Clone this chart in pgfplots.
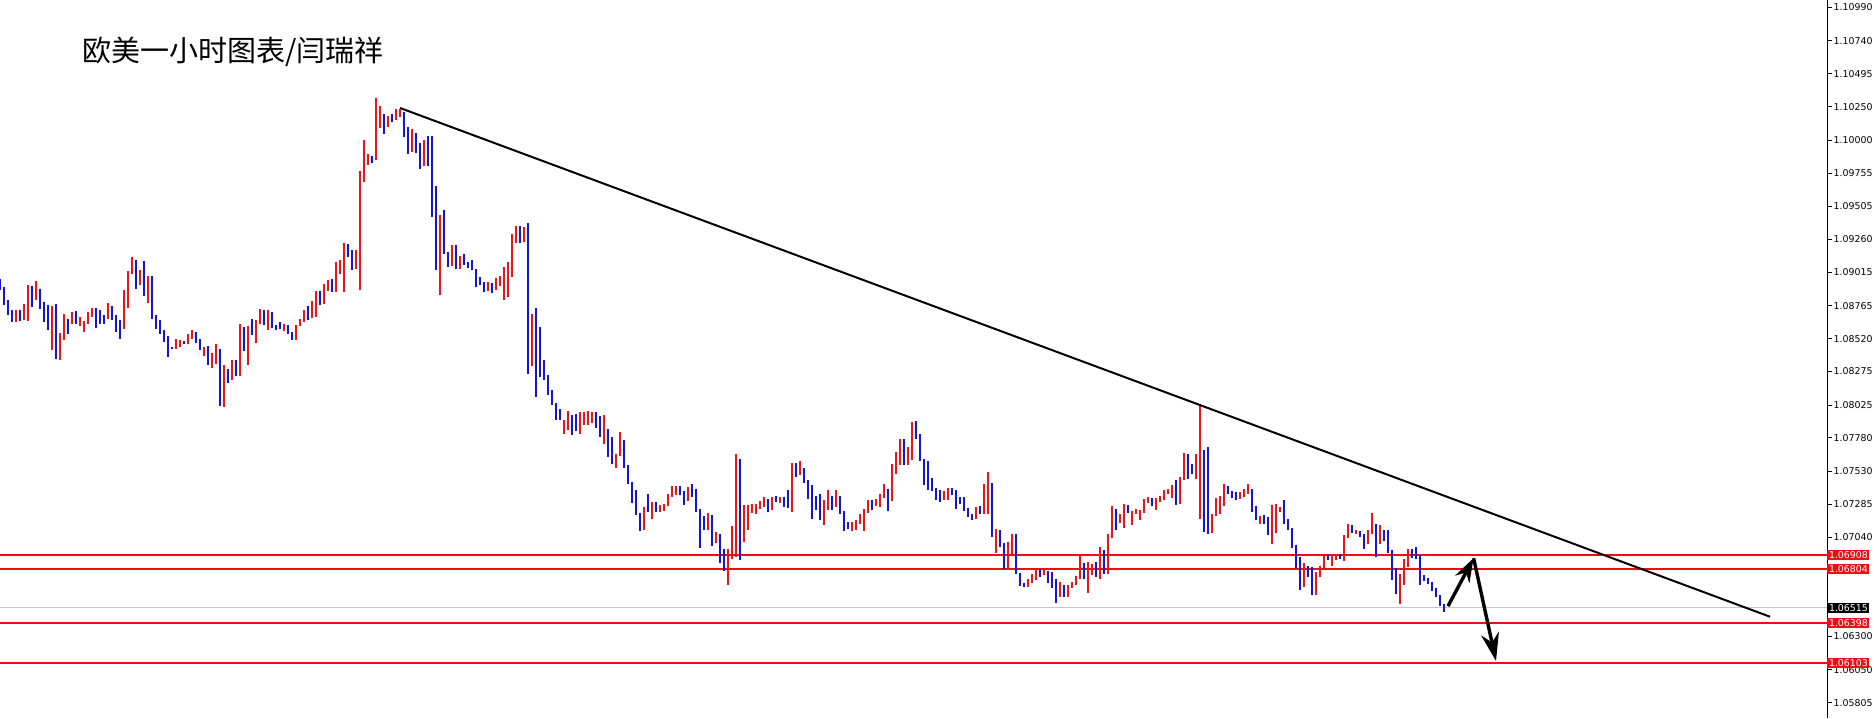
\documentclass[border=0pt]{standalone}
\usepackage{fontspec}
\usepackage{pgfplots}
\usepackage{pgfplotstable}
\pgfplotsset{compat=1.18}
\usetikzlibrary{arrows.meta}
\newfontfamily\cjk{Noto Sans CJK SC}
\newfontfamily\dejavu{DejaVu Sans}
\newcommand\tickfont{\dejavu\fontsize{4.7}{5}\selectfont}
\definecolor{bull}{RGB}{235,20,25}
\definecolor{bear}{RGB}{20,20,215}
\definecolor{lvl}{RGB}{235,15,20}
\pgfplotsset{candle/.style={only marks, mark=*, mark options={draw opacity=0, fill opacity=0},
    error bars/y dir=both, error bars/y explicit, error bars/error mark=none}}

% EURUSD 1h candles: index, open, high, low, close
\pgfplotstableread{
i o h l c
0 1.08955 1.08968 1.08881 1.08893
1 1.08888 1.08906 1.08769 1.08776
2 1.08786 1.08806 1.08694 1.08727
3 1.08727 1.08737 1.08645 1.08650
4 1.08650 1.08737 1.08645 1.08732
5 1.08732 1.08737 1.08650 1.08677
6 1.08682 1.08781 1.08657 1.08732
7 1.08727 1.08918 1.08650 1.08898
8 1.08898 1.08910 1.08756 1.08826
9 1.08818 1.08948 1.08806 1.08886
10 1.08886 1.08893 1.08744 1.08781
11 1.08786 1.08794 1.08645 1.08650
12 1.08657 1.08769 1.08583 1.08607
13 1.08607 1.08761 1.08439 1.08645
14 1.08645 1.08781 1.08372 1.08377
15 1.08372 1.08563 1.08364 1.08558
16 1.08558 1.08707 1.08513 1.08657
17 1.08662 1.08670 1.08558 1.08645
18 1.08645 1.08719 1.08632 1.08682
19 1.08682 1.08724 1.08632 1.08637
20 1.08637 1.08682 1.08612 1.08667
21 1.08632 1.08657 1.08570 1.08645
22 1.08637 1.08719 1.08632 1.08712
23 1.08707 1.08751 1.08682 1.08742
24 1.08742 1.08749 1.08600 1.08719
25 1.08732 1.08735 1.08632 1.08682
26 1.08682 1.08694 1.08632 1.08674
27 1.08677 1.08786 1.08669 1.08756
28 1.08756 1.08761 1.08657 1.08674
29 1.08682 1.08694 1.08570 1.08607
30 1.08612 1.08657 1.08520 1.08583
31 1.08593 1.08886 1.08590 1.08806
32 1.08806 1.09025 1.08751 1.09010
33 1.09005 1.09129 1.09000 1.09099
34 1.09099 1.09104 1.08893 1.08950
35 1.08950 1.09030 1.08918 1.09030
36 1.09030 1.09104 1.08843 1.08843
37 1.08843 1.08985 1.08786 1.08906
38 1.08906 1.08985 1.08670 1.08699
39 1.08699 1.08699 1.08595 1.08645
40 1.08652 1.08662 1.08558 1.08563
41 1.08565 1.08583 1.08496 1.08533
42 1.08540 1.08540 1.08384 1.08451
43 1.08458 1.08460 1.08441 1.08441
44 1.08446 1.08520 1.08441 1.08508
45 1.08463 1.08508 1.08458 1.08501
46 1.08501 1.08505 1.08483 1.08488
47 1.08488 1.08558 1.08483 1.08533
48 1.08525 1.08588 1.08520 1.08565
49 1.08565 1.08570 1.08488 1.08508
50 1.08520 1.08520 1.08434 1.08439
51 1.08439 1.08458 1.08389 1.08458
52 1.08458 1.08463 1.08327 1.08334
53 1.08330 1.08414 1.08302 1.08389
54 1.08389 1.08483 1.08330 1.08434
55 1.08441 1.08446 1.08019 1.08019
56 1.08019 1.08327 1.08011 1.08292
57 1.08292 1.08297 1.08190 1.08215
58 1.08215 1.08359 1.08210 1.08352
59 1.08352 1.08359 1.08245 1.08247
60 1.08247 1.08627 1.08245 1.08501
61 1.08501 1.08607 1.08426 1.08463
62 1.08463 1.08612 1.08327 1.08590
63 1.08590 1.08669 1.08545 1.08558
64 1.08558 1.08657 1.08488 1.08645
65 1.08637 1.08739 1.08632 1.08717
66 1.08717 1.08732 1.08620 1.08632
67 1.08632 1.08732 1.08588 1.08717
68 1.08717 1.08717 1.08600 1.08607
69 1.08612 1.08620 1.08588 1.08595
70 1.08602 1.08645 1.08595 1.08595
71 1.08595 1.08627 1.08575 1.08615
72 1.08625 1.08625 1.08558 1.08563
73 1.08563 1.08570 1.08513 1.08525
74 1.08520 1.08625 1.08513 1.08620
75 1.08615 1.08667 1.08612 1.08650
76 1.08645 1.08737 1.08645 1.08712
77 1.08707 1.08761 1.08657 1.08682
78 1.08682 1.08806 1.08677 1.08794
79 1.08786 1.08873 1.08682 1.08868
80 1.08868 1.08876 1.08769 1.08818
81 1.08823 1.08930 1.08781 1.08910
82 1.08906 1.08960 1.08873 1.08915
83 1.08961 1.08968 1.08869 1.08894
84 1.08961 1.09092 1.08869 1.09030
85 1.09025 1.09105 1.09005 1.09043
86 1.09035 1.09234 1.08869 1.09192
87 1.09192 1.09229 1.09129 1.09154
88 1.09159 1.09179 1.09030 1.09060
89 1.09060 1.09179 1.09043 1.09142
90 1.09129 1.09770 1.08881 1.09770
91 1.09770 1.09999 1.09688 1.09862
92 1.09862 1.09895 1.09813 1.09887
93 1.09875 1.09880 1.09830 1.09862
94 1.09862 1.10317 1.09850 1.10111
95 1.10111 1.10252 1.10093 1.10178
96 1.10178 1.10198 1.10049 1.10118
97 1.10111 1.10178 1.10098 1.10173
98 1.10173 1.10198 1.10136 1.10160
99 1.10160 1.10235 1.10148 1.10185
100 1.10185 1.10235 1.10173 1.10198
101 1.10185 1.10210 1.10024 1.10036
102 1.10036 1.10098 1.09895 1.09917
103 1.09917 1.10086 1.09912 1.10036
104 1.10036 1.10053 1.09905 1.09974
105 1.09979 1.09979 1.09788 1.09813
106 1.09813 1.10004 1.09805 1.09979
107 1.09979 1.10029 1.09805 1.09813
108 1.09825 1.10029 1.09428 1.09433
109 1.09440 1.09656 1.09030 1.09035
110 1.09035 1.09440 1.08844 1.09358
111 1.09358 1.09477 1.09154 1.09159
112 1.09167 1.09167 1.09055 1.09067
113 1.09067 1.09216 1.09060 1.09184
114 1.09184 1.09221 1.09043 1.09060
115 1.09067 1.09137 1.09043 1.09129
116 1.09129 1.09149 1.09067 1.09092
117 1.09085 1.09092 1.09050 1.09075
118 1.09080 1.09105 1.09030 1.09035
119 1.09043 1.09043 1.08906 1.08956
120 1.08961 1.08980 1.08918 1.08926
121 1.08926 1.08943 1.08869 1.08881
122 1.08886 1.08943 1.08876 1.08931
123 1.08931 1.08938 1.08861 1.08926
124 1.08926 1.08975 1.08881 1.08931
125 1.08926 1.08985 1.08911 1.08980
126 1.08975 1.09055 1.08807 1.08985
127 1.08980 1.09092 1.08831 1.09030
128 1.09030 1.09298 1.08980 1.09291
129 1.09291 1.09361 1.09234 1.09348
130 1.09348 1.09361 1.09234 1.09283
131 1.09283 1.09353 1.09241 1.09316
132 1.09308 1.09383 1.08260 1.08384
133 1.08384 1.08702 1.08315 1.08628
134 1.08628 1.08752 1.08086 1.08571
135 1.08578 1.08608 1.08235 1.08240
136 1.08248 1.08359 1.08210 1.08235
137 1.08240 1.08248 1.08099 1.08111
138 1.08116 1.08136 1.08024 1.08041
139 1.08041 1.08041 1.07917 1.07924
140 1.07932 1.07999 1.07912 1.07919
141 1.07818 1.07912 1.07808 1.07907
142 1.07875 1.07979 1.07837 1.07892
143 1.07892 1.07949 1.07800 1.07880
144 1.07882 1.07957 1.07832 1.07837
145 1.07837 1.07974 1.07813 1.07904
146 1.07887 1.07974 1.07880 1.07900
147 1.07887 1.07981 1.07880 1.07962
148 1.07954 1.07974 1.07892 1.07967
149 1.07967 1.07974 1.07855 1.07862
150 1.07867 1.07942 1.07788 1.07793
151 1.07793 1.07949 1.07738 1.07842
152 1.07842 1.07850 1.07639 1.07651
153 1.07659 1.07788 1.07589 1.07651
154 1.07651 1.07664 1.07559 1.07659
155 1.07651 1.07825 1.07644 1.07726
156 1.07726 1.07763 1.07559 1.07569
157 1.07577 1.07582 1.07435 1.07440
158 1.07445 1.07452 1.07296 1.07303
159 1.07303 1.07390 1.07204 1.07211
160 1.07216 1.07221 1.07087 1.07122
161 1.07125 1.07266 1.07092 1.07259
162 1.07259 1.07365 1.07229 1.07234
163 1.07241 1.07303 1.07179 1.07296
164 1.07296 1.07303 1.07229 1.07241
165 1.07241 1.07278 1.07229 1.07271
166 1.07266 1.07291 1.07236 1.07283
167 1.07278 1.07365 1.07274 1.07358
168 1.07353 1.07420 1.07341 1.07410
169 1.07403 1.07420 1.07353 1.07410
170 1.07410 1.07420 1.07353 1.07378
171 1.07378 1.07383 1.07283 1.07316
172 1.07321 1.07415 1.07311 1.07403
173 1.07403 1.07435 1.07341 1.07390
174 1.07395 1.07403 1.07229 1.07234
175 1.07241 1.07254 1.06963 1.07184
176 1.07192 1.07197 1.07097 1.07100
177 1.07100 1.07221 1.07092 1.07137
178 1.07137 1.07204 1.06973 1.07042
179 1.07042 1.07080 1.06998 1.07062
180 1.07055 1.07062 1.06849 1.06943
181 1.06948 1.06956 1.06789 1.06849
182 1.06824 1.06956 1.06682 1.06923
183 1.06898 1.07125 1.06881 1.07047
184 1.07042 1.07659 1.06893 1.07601
185 1.07601 1.07621 1.06874 1.07013
186 1.07018 1.07283 1.07005 1.07184
187 1.07184 1.07283 1.07092 1.07254
188 1.07229 1.07286 1.07221 1.07278
189 1.07221 1.07291 1.07216 1.07286
190 1.07278 1.07311 1.07254 1.07303
191 1.07296 1.07341 1.07266 1.07321
192 1.07321 1.07328 1.07229 1.07254
193 1.07254 1.07341 1.07246 1.07333
194 1.07333 1.07346 1.07303 1.07321
195 1.07311 1.07341 1.07296 1.07336
196 1.07336 1.07341 1.07266 1.07321
197 1.07336 1.07390 1.07261 1.07266
198 1.07266 1.07594 1.07229 1.07589
199 1.07584 1.07589 1.07490 1.07514
200 1.07510 1.07609 1.07502 1.07557
201 1.07549 1.07557 1.07445 1.07452
202 1.07457 1.07465 1.07321 1.07336
203 1.07346 1.07428 1.07172 1.07328
204 1.07341 1.07346 1.07246 1.07254
205 1.07311 1.07365 1.07172 1.07241
206 1.07241 1.07316 1.07134 1.07266
207 1.07246 1.07390 1.07241 1.07336
208 1.07336 1.07346 1.07246 1.07271
209 1.07271 1.07395 1.07266 1.07336
210 1.07341 1.07346 1.07216 1.07221
211 1.07229 1.07234 1.07087 1.07130
212 1.07142 1.07154 1.07105 1.07117
213 1.07092 1.07154 1.07085 1.07142
214 1.07105 1.07167 1.07097 1.07154
215 1.07147 1.07216 1.07137 1.07162
216 1.07154 1.07254 1.07087 1.07241
217 1.07229 1.07321 1.07221 1.07303
218 1.07303 1.07316 1.07241 1.07286
219 1.07291 1.07328 1.07271 1.07321
220 1.07316 1.07366 1.07266 1.07353
221 1.07341 1.07440 1.07333 1.07403
222 1.07395 1.07403 1.07236 1.07321
223 1.07316 1.07589 1.07311 1.07527
224 1.07520 1.07676 1.07510 1.07626
225 1.07619 1.07775 1.07577 1.07768
226 1.07768 1.07775 1.07577 1.07626
227 1.07614 1.07713 1.07577 1.07688
228 1.07683 1.07900 1.07614 1.07892
229 1.07892 1.07907 1.07775 1.07788
230 1.07800 1.07813 1.07609 1.07614
231 1.07614 1.07626 1.07428 1.07594
232 1.07601 1.07606 1.07390 1.07472
233 1.07477 1.07485 1.07385 1.07395
234 1.07403 1.07408 1.07321 1.07366
235 1.07366 1.07390 1.07303 1.07321
236 1.07321 1.07385 1.07316 1.07378
237 1.07321 1.07403 1.07316 1.07390
238 1.07390 1.07410 1.07353 1.07383
239 1.07390 1.07395 1.07254 1.07341
240 1.07336 1.07341 1.07291 1.07321
241 1.07333 1.07341 1.07236 1.07241
242 1.07254 1.07259 1.07192 1.07197
243 1.07204 1.07216 1.07172 1.07174
244 1.07174 1.07266 1.07172 1.07254
245 1.07254 1.07271 1.07216 1.07221
246 1.07221 1.07440 1.07216 1.07403
247 1.07403 1.07527 1.07216 1.07420
248 1.07420 1.07445 1.07043 1.07055
249 1.07043 1.07105 1.06924 1.07080
250 1.07085 1.07092 1.06968 1.06973
251 1.06993 1.06998 1.06807 1.06819
252 1.06819 1.07005 1.06807 1.06956
253 1.06918 1.07067 1.06913 1.06973
254 1.06973 1.07062 1.06764 1.06769
255 1.06769 1.06774 1.06675 1.06682
256 1.06682 1.06700 1.06670 1.06675
257 1.06675 1.06732 1.06670 1.06720
258 1.06707 1.06769 1.06700 1.06732
259 1.06732 1.06807 1.06720 1.06789
260 1.06789 1.06807 1.06744 1.06774
261 1.06769 1.06807 1.06757 1.06799
262 1.06782 1.06789 1.06700 1.06769
263 1.06774 1.06782 1.06658 1.06720
264 1.06725 1.06732 1.06551 1.06658
265 1.06658 1.06707 1.06595 1.06675
266 1.06675 1.06682 1.06595 1.06600
267 1.06600 1.06682 1.06595 1.06670
268 1.06670 1.06707 1.06658 1.06700
269 1.06695 1.06749 1.06682 1.06744
270 1.06732 1.06898 1.06725 1.06831
271 1.06831 1.06849 1.06732 1.06744
272 1.06740 1.06856 1.06625 1.06774
273 1.06769 1.06844 1.06757 1.06831
274 1.06831 1.06856 1.06744 1.06749
275 1.06749 1.06968 1.06732 1.06924
276 1.06913 1.06943 1.06769 1.06807
277 1.06814 1.07067 1.06769 1.07043
278 1.07043 1.07271 1.07038 1.07197
279 1.07197 1.07254 1.07092 1.07162
280 1.07162 1.07216 1.07147 1.07187
281 1.07179 1.07286 1.07112 1.07271
282 1.07271 1.07279 1.07221 1.07229
283 1.07167 1.07236 1.07130 1.07229
284 1.07221 1.07254 1.07211 1.07246
285 1.07179 1.07241 1.07172 1.07234
286 1.07229 1.07328 1.07221 1.07316
287 1.07303 1.07341 1.07296 1.07333
288 1.07328 1.07336 1.07271 1.07279
289 1.07291 1.07336 1.07241 1.07328
290 1.07316 1.07346 1.07303 1.07341
291 1.07336 1.07390 1.07321 1.07378
292 1.07366 1.07403 1.07361 1.07390
293 1.07378 1.07428 1.07336 1.07390
294 1.07390 1.07465 1.07279 1.07308
295 1.07308 1.07490 1.07286 1.07485
296 1.07477 1.07664 1.07470 1.07609
297 1.07609 1.07664 1.07477 1.07544
298 1.07552 1.07589 1.07510 1.07544
299 1.07544 1.07664 1.07477 1.07594
300 1.07577 1.08030 1.07179 1.07602
301 1.07602 1.07688 1.07080 1.07515
302 1.07515 1.07713 1.07063 1.07147
303 1.07147 1.07217 1.07072 1.07212
304 1.07204 1.07336 1.07197 1.07286
305 1.07271 1.07346 1.07212 1.07316
306 1.07311 1.07440 1.07271 1.07395
307 1.07390 1.07420 1.07361 1.07370
308 1.07378 1.07385 1.07336 1.07361
309 1.07370 1.07378 1.07321 1.07346
310 1.07346 1.07378 1.07328 1.07366
311 1.07361 1.07403 1.07341 1.07378
312 1.07370 1.07440 1.07361 1.07395
313 1.07395 1.07403 1.07229 1.07234
314 1.07241 1.07271 1.07167 1.07172
315 1.07167 1.07197 1.07142 1.07192
316 1.07187 1.07204 1.07137 1.07142
317 1.07147 1.07192 1.07055 1.07063
318 1.07063 1.07279 1.06993 1.07241
319 1.07080 1.07291 1.07072 1.07246
320 1.07236 1.07266 1.07229 1.07254
321 1.07254 1.07321 1.07142 1.07147
322 1.07154 1.07179 1.07097 1.07105
323 1.07105 1.07112 1.06963 1.06968
324 1.06973 1.06981 1.06814 1.06819
325 1.06824 1.06894 1.06650 1.06682
326 1.06682 1.06844 1.06670 1.06757
327 1.06819 1.06824 1.06745 1.06757
328 1.06814 1.06819 1.06608 1.06665
329 1.06665 1.06782 1.06608 1.06774
330 1.06750 1.06824 1.06745 1.06819
331 1.06819 1.06899 1.06812 1.06894
332 1.06899 1.06906 1.06869 1.06874
333 1.06869 1.06906 1.06824 1.06889
334 1.06881 1.06918 1.06874 1.06906
335 1.06906 1.06918 1.06881 1.06889
336 1.06894 1.07055 1.06864 1.07043
337 1.07043 1.07137 1.07038 1.07122
338 1.07122 1.07130 1.07072 1.07080
339 1.07072 1.07097 1.07063 1.07092
340 1.07080 1.07087 1.07043 1.07048
341 1.07055 1.07067 1.06956 1.06993
342 1.06993 1.07097 1.06988 1.07092
343 1.07087 1.07222 1.07063 1.07097
344 1.07067 1.07142 1.06894 1.06998
345 1.06998 1.07130 1.06993 1.07067
346 1.07067 1.07092 1.07013 1.07018
347 1.07055 1.07092 1.06923 1.06931
348 1.06931 1.06943 1.06720 1.06794
349 1.06799 1.06807 1.06615 1.06625
350 1.06625 1.06764 1.06546 1.06757
351 1.06720 1.06881 1.06682 1.06832
352 1.06824 1.06956 1.06819 1.06931
353 1.06923 1.06956 1.06889 1.06894
354 1.06906 1.06968 1.06881 1.06889
355 1.06906 1.06911 1.06682 1.06732
356 1.06745 1.06757 1.06715 1.06725
357 1.06725 1.06740 1.06690 1.06700
358 1.06700 1.06707 1.06640 1.06650
359 1.06650 1.06658 1.06591 1.06596
360 1.06600 1.06608 1.06526 1.06533
361 1.06533 1.06546 1.06484 1.06515
}\candles

\begin{document}
\begin{tikzpicture}
\useasboundingbox (0,0) rectangle (937pt,359pt);
\begin{axis}[
    at={(0,0)}, anchor=south west,
    scale only axis, width=913.5pt, height=359pt,
    xmin=0, xmax=456.75,
    ymin=1.05692, ymax=1.11045,
    axis x line=none,
    axis y line*=right,
    y axis line style={-, black, line width=0.5pt},
    ytick={1.05805,1.06050,1.06300,1.06545,1.06795,1.07040,1.07285,1.07530,1.07780,1.08025,1.08275,1.08520,1.08765,1.09015,1.09260,1.09505,1.09755,1.10000,1.10250,1.10495,1.10740,1.10990},
    yticklabels={1.05805,1.06050,1.06300,{},{},1.07040,1.07285,1.07530,1.07780,1.08025,1.08275,1.08520,1.08765,1.09015,1.09260,1.09505,1.09755,1.10000,1.10250,1.10495,1.10740,1.10990},
    tick align=outside,
    major tick length=2.5pt,
    ytick style={black, line width=0.5pt},
    yticklabel style={font=\tickfont, inner sep=0.6pt},
]
% support / resistance levels and bid line
\addplot[gray!45, line width=0.5pt] coordinates {(0,1.06515) (456.75,1.06515)};
\addplot[lvl, line width=1pt] coordinates {(0,1.06908) (456.75,1.06908)};
\addplot[lvl, line width=1pt] coordinates {(0,1.06804) (456.75,1.06804)};
\addplot[lvl, line width=1pt] coordinates {(0,1.06398) (456.75,1.06398)};
\addplot[lvl, line width=1pt] coordinates {(0,1.06103) (456.75,1.06103)};

% wicks
\addplot[candle, restrict expr to domain={\thisrow{c}-\thisrow{o}}{0:1},
    error bars/error bar style={line width=0.6pt, bull}]
    table[x=i, y expr={(\thisrow{h}+\thisrow{l})/2}, y error expr={(\thisrow{h}-\thisrow{l})/2}] {\candles};
\addplot[candle, restrict expr to domain={\thisrow{c}-\thisrow{o}}{-1:0},
    error bars/error bar style={line width=0.6pt, bear}]
    table[x=i, y expr={(\thisrow{h}+\thisrow{l})/2}, y error expr={(\thisrow{h}-\thisrow{l})/2}] {\candles};
% bodies
\addplot[candle, restrict expr to domain={\thisrow{c}-\thisrow{o}}{0:1},
    error bars/error bar style={line width=1.45pt, bull}]
    table[x=i, y expr={(\thisrow{o}+\thisrow{c})/2}, y error expr={max(abs(\thisrow{c}-\thisrow{o})/2,0.00002)}] {\candles};
\addplot[candle, restrict expr to domain={\thisrow{c}-\thisrow{o}}{-1:0},
    error bars/error bar style={line width=1.45pt, bear}]
    table[x=i, y expr={(\thisrow{o}+\thisrow{c})/2}, y error expr={max(abs(\thisrow{c}-\thisrow{o})/2,0.00002)}] {\candles};

% trend line
\addplot[black, line width=1pt] coordinates {(100,1.10240) (442.5,1.06447)};
% projected path
\addplot[black, line width=1.7pt, -{Stealth[length=12pt, width=8pt]}] coordinates {(362,1.06526) (368.4,1.06884)};
\addplot[black, line width=1.7pt, -{Stealth[length=14pt, width=9pt]}] coordinates {(368.4,1.06884) (374,1.06117)};

\coordinate (L1) at (axis cs:456.75,1.06908);
\coordinate (L2) at (axis cs:456.75,1.06804);
\coordinate (L3) at (axis cs:456.75,1.06398);
\coordinate (L4) at (axis cs:456.75,1.06103);
\coordinate (L5) at (axis cs:456.75,1.06515);
\end{axis}

\foreach \p/\v in {L1/1.06908, L2/1.06804, L3/1.06398, L4/1.06103}
    \node[fill=lvl, text=white, font=\tickfont, anchor=west, inner xsep=0.8pt, inner ysep=0.7pt] at (\p) {\v};
\node[fill=black, text=white, font=\tickfont, anchor=west, inner xsep=0.8pt, inner ysep=0.7pt] at (L5) {1.06515};

\node[anchor=west, inner sep=0pt, font=\cjk\fontsize{14.5}{16}\selectfont] at (41pt,333pt) {欧美一小时图表/闫瑞祥};
\end{tikzpicture}
\end{document}
